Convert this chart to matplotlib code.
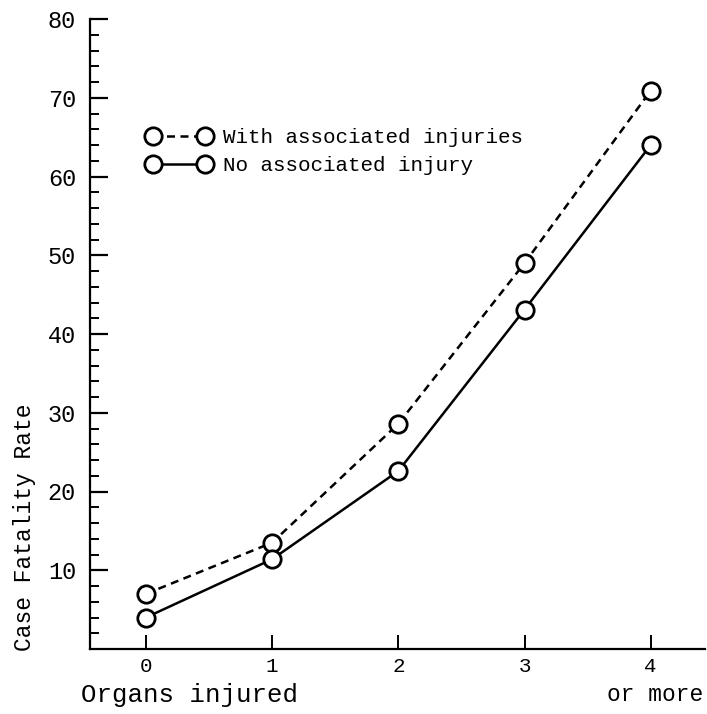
import matplotlib
matplotlib.use("Agg")
import matplotlib.pyplot as plt
from matplotlib.lines import Line2D

# Data
organs = [0, 1, 2, 3, 4]
tick_labels = ["0", "1", "2", "3", "4"]
with_assoc = [7.0, 13.5, 28.6, 49.0, 70.9]
no_assoc = [4.0, 11.4, 22.6, 43.1, 64.0]
series_labels = ["With associated injuries", "No associated injury"]

FONT = "Liberation Mono"
plt.rcParams["font.family"] = [FONT, "DejaVu Sans Mono"]

W, H = 707, 714
fig = plt.figure(figsize=(W / 100, H / 100), dpi=100)
left_px, right_px, top_px, bottom_px = 90, 705, 19, 649
ax = fig.add_axes([left_px / W, 1 - bottom_px / H,
                   (right_px - left_px) / W, (bottom_px - top_px) / H])

ax.set_xlim(-0.443, 4.43)
ax.set_ylim(0, 80)

mk = dict(marker="o", markersize=12.5, markerfacecolor="white",
          markeredgecolor="black", markeredgewidth=2.0)
l1, = ax.plot(organs, with_assoc, color="black", lw=1.8,
              linestyle=(0, (3.2, 2.2)), **mk)
l2, = ax.plot(organs, no_assoc, color="black", lw=1.8, linestyle="-", **mk)

for s in ["top", "right"]:
    ax.spines[s].set_visible(False)
for s in ["left", "bottom"]:
    ax.spines[s].set_linewidth(1.6)

ax.set_yticks(range(10, 81, 10))
ax.set_yticks(range(2, 81, 2), minor=True)
ax.tick_params(axis="y", which="major", direction="in", length=13, width=1.6,
               labelsize=17, pad=10)
ax.tick_params(axis="y", which="minor", direction="in", length=6.5, width=1.4)
ax.set_xticks(organs)
ax.set_xticklabels(tick_labels)
ax.tick_params(axis="x", which="major", direction="in", length=10, width=1.4,
               labelsize=15, pad=6)

ax.set_ylabel("Case Fatality Rate", fontsize=16.5)
ax.yaxis.set_label_coords((36 - left_px) / (right_px - left_px),
                          (bottom_px - 527) / (bottom_px - top_px))

ax.text(-0.443 + (81 - left_px) / 126.3, (bottom_px - 707) / 7.86,
        "Organs injured", fontsize=18.5, ha="left", va="bottom",
        clip_on=False)
ax.text(4 + (705 - 652) / 126.3, (bottom_px - 706) / 7.86, "or more",
        fontsize=16.5, ha="right", va="bottom", clip_on=False)

h1 = Line2D([], [], color="black", lw=1.8, linestyle=(0, (3.2, 2.2)), **mk)
h2 = Line2D([], [], color="black", lw=1.8, linestyle="-", **mk)
leg = ax.legend([h1, h2], series_labels, loc="upper left",
                bbox_to_anchor=(147 / W, 1 - 128 / H),
                bbox_transform=fig.transFigure, frameon=False, numpoints=2,
                handlelength=3.1, handletextpad=0.55, labelspacing=0.45,
                borderaxespad=0, borderpad=0, fontsize=15)

fig.savefig("out.png", dpi=100)
